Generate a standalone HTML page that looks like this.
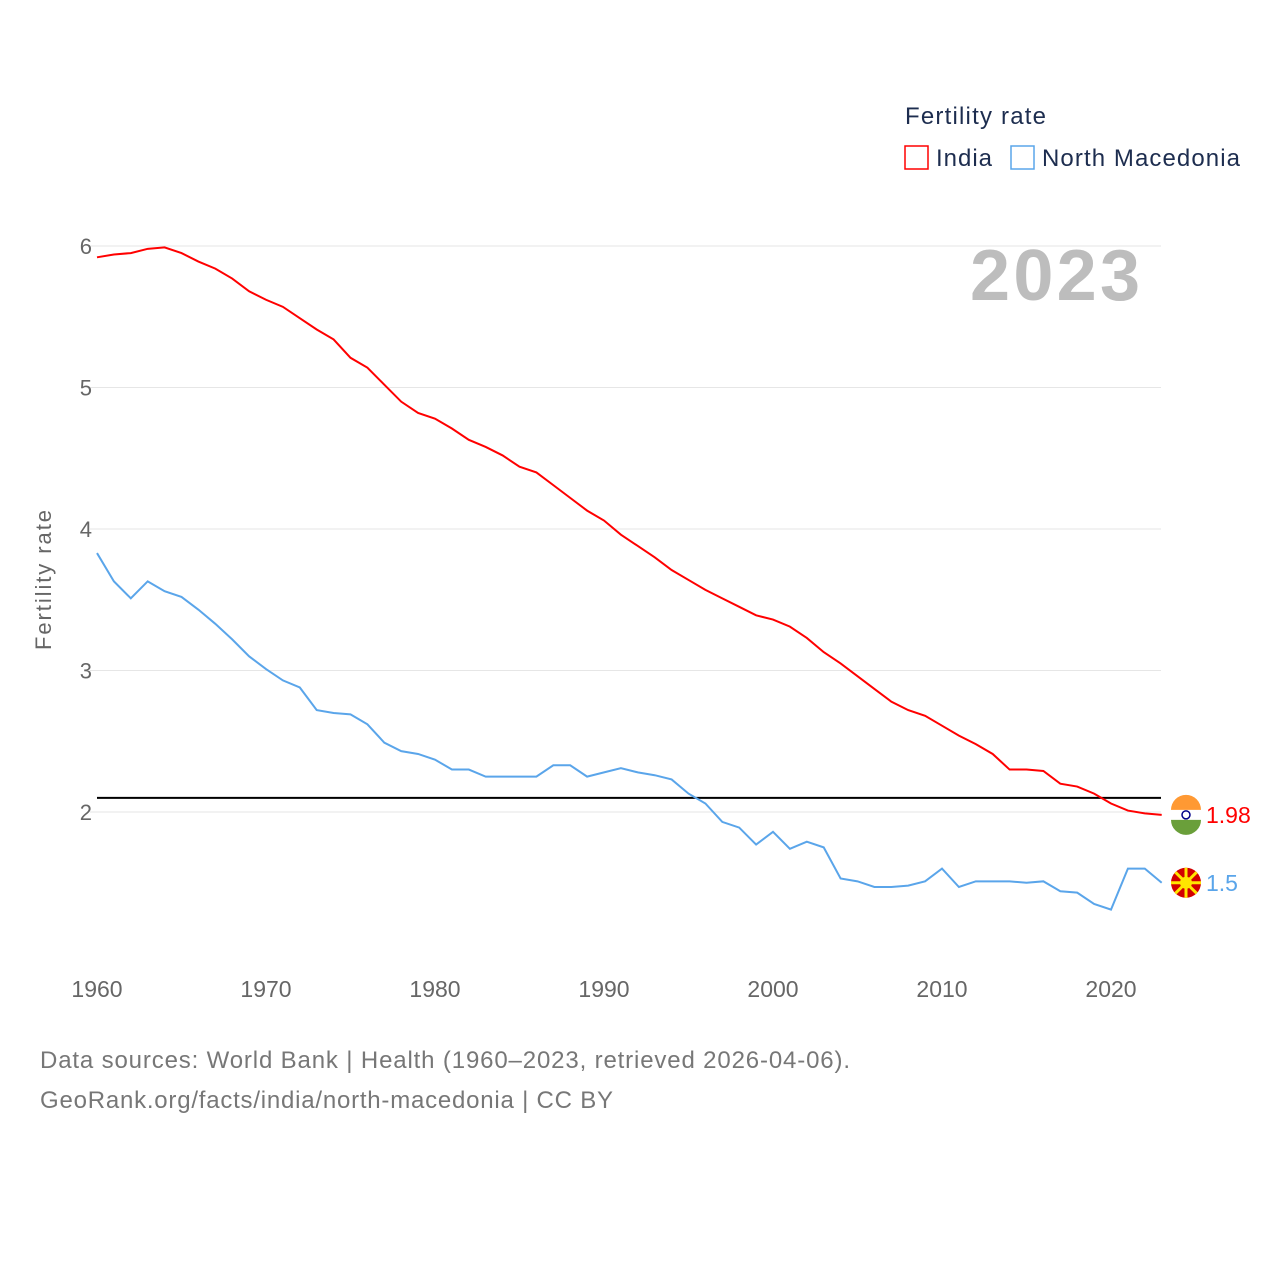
<!DOCTYPE html>
<html><head><meta charset="utf-8"><style>
body{margin:0;background:#fff;font-family:"Liberation Sans",sans-serif;}
svg text{font-family:"Liberation Sans",sans-serif;}
</style></head><body>
<svg id="chart" width="1280" height="1280" viewBox="0 0 1280 1280">
<text x="905" y="124" font-size="24" fill="#1d2d4f" textLength="141">Fertility rate</text>
<g><rect x="905" y="146" width="23" height="23" fill="none" stroke="#f00" stroke-width="1.5"/><text x="936" y="166" font-size="24" fill="#1d2d4f" textLength="56">India</text></g>
<g><rect x="1011" y="146" width="23" height="23" fill="none" stroke="#5aa5ea" stroke-width="1.5"/><text x="1042" y="166" font-size="24" fill="#1d2d4f" textLength="198">North Macedonia</text></g>
<text x="1140" y="300" font-size="72" font-weight="bold" fill="#bdbdbd" text-anchor="end" textLength="170">2023</text>
<text transform="translate(51,580) rotate(-90)" font-size="22" fill="#666" text-anchor="middle" textLength="140">Fertility rate</text>
<g id="grid"></g><g id="series"></g>
<text x="40" y="1068" font-size="24" fill="#777" textLength="810">Data sources: World Bank | Health (1960–2023, retrieved 2026-04-06).</text>
<text x="40" y="1108" font-size="24" fill="#777" textLength="573">GeoRank.org/facts/india/north-macedonia | CC BY</text>
</svg>
<script>
const years=[];for(let y=1960;y<=2023;y++)years.push(y);
const yTicks=[2,3,4,5,6];
const xTicks=[1960,1970,1980,1990,2000,2010,2020];
const india=[5.92,5.94,5.95,5.98,5.99,5.95,5.89,5.84,5.77,5.68,5.62,5.57,5.49,5.41,5.34,5.21,5.14,5.02,4.90,4.82,4.78,4.71,4.63,4.58,4.52,4.44,4.40,4.31,4.22,4.13,4.06,3.96,3.88,3.80,3.71,3.64,3.57,3.51,3.45,3.39,3.36,3.31,3.23,3.13,3.05,2.96,2.87,2.78,2.72,2.68,2.61,2.54,2.48,2.41,2.30,2.30,2.29,2.20,2.18,2.13,2.06,2.01,1.99,1.98];
const macedonia=[3.83,3.63,3.51,3.63,3.56,3.52,3.43,3.33,3.22,3.10,3.01,2.93,2.88,2.72,2.70,2.69,2.62,2.49,2.43,2.41,2.37,2.30,2.30,2.25,2.25,2.25,2.25,2.33,2.33,2.25,2.28,2.31,2.28,2.26,2.23,2.13,2.06,1.93,1.89,1.77,1.86,1.74,1.79,1.75,1.53,1.51,1.47,1.47,1.48,1.51,1.60,1.47,1.51,1.51,1.51,1.50,1.51,1.44,1.43,1.35,1.31,1.60,1.60,1.50];
const replacement=2.1;
const X=y=>97+(y-1960)*16.9;
const Y=v=>812-(v-2)*141.5;
const NS="http://www.w3.org/2000/svg";
const grid=document.getElementById('grid'),ser=document.getElementById('series');
function mk(t,a,p){const e=document.createElementNS(NS,t);for(const k in a)e.setAttribute(k,a[k]);p.appendChild(e);return e;}
yTicks.forEach(v=>{
 const l=mk('line',{x1:90,x2:1161,y1:Y(v),y2:Y(v),stroke:'#e6e6e6'},grid);
 
 
 const t=mk('text',{x:92,y:Y(v)+8,'font-size':22,fill:'#666','text-anchor':'end'},grid);t.textContent=v;
 
 
});
xTicks.forEach(v=>{
 const t=mk('text',{x:X(v),y:997,'font-size':23,fill:'#666','text-anchor':'middle'},grid);t.textContent=v;
 
 
});
const rl=mk('line',{x1:97,x2:1161,y1:Y(replacement),y2:Y(replacement),stroke:'#000','stroke-width':2},ser);


function line(d,c,n){const p=mk('polyline',{points:d.map((v,i)=>X(years[i])+','+Y(v)).join(' '),fill:'none',stroke:c,'stroke-width':2},ser);
 
 }
line(india,'#f00','india-line');line(macedonia,'#5aa5ea','north-macedonia-line');
function endLabel(v,c,n,flag){const y=Y(v);const g=mk('g',{},ser);
 
 
 if(flag==='in'){mk('circle',{cx:1186,cy:y,r:15,fill:'#fff'},g);mk('path',{d:`M1171 ${y-5} A15 15 0 0 1 1201 ${y-5}Z`,fill:'#f93'},g);mk('path',{d:`M1171 ${y+5} A15 15 0 0 0 1201 ${y+5}Z`,fill:'#6a9f3a'},g);mk('circle',{cx:1186,cy:y,r:4,fill:'none',stroke:'#008',"stroke-width":1.5},g);}
 else{mk('circle',{cx:1186,cy:y,r:15,fill:'#d20000'},g);mk('circle',{cx:1186,cy:y,r:6,fill:'#ffe600'},g);for(let a=0;a<8;a++){const r=a*Math.PI/4;mk('line',{x1:1186,y1:y,x2:1186+15*Math.cos(r),y2:y+15*Math.sin(r),stroke:'#ffe600','stroke-width':3},g);}}
 const t=mk('text',{x:1206,y:y+8,'font-size':23,fill:c},g);t.textContent=v;}
endLabel(india[india.length-1],'#f00','india-end-label','in');
endLabel(macedonia[macedonia.length-1],'#5aa5ea','north-macedonia-end-label','mk');
</script>
</body></html>
